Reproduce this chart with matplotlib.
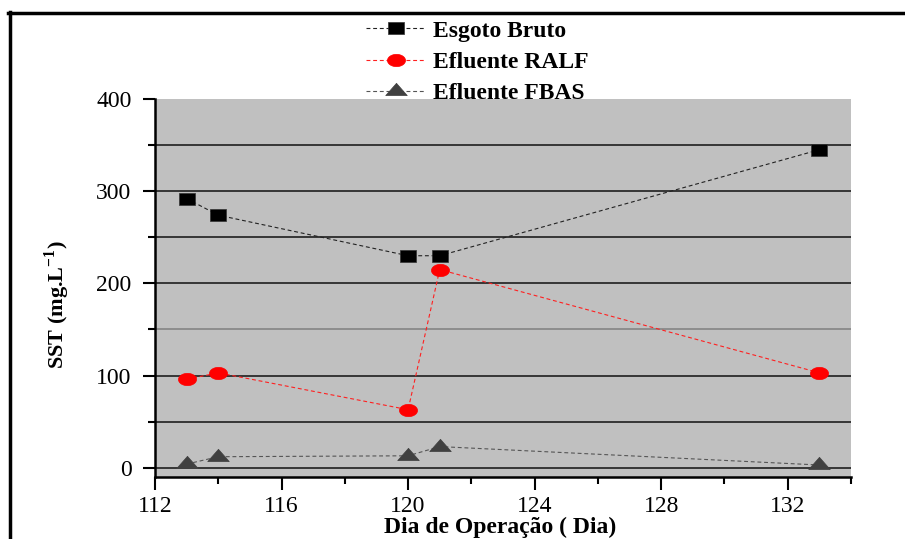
import matplotlib
matplotlib.use("Agg")
import matplotlib.pyplot as plt
import numpy as np
from matplotlib.path import Path
from matplotlib.lines import Line2D

plt.rcParams['font.family'] = ['Liberation Serif', 'DejaVu Serif']
plt.rcParams['mathtext.fontset'] = 'custom'
plt.rcParams['mathtext.rm'] = 'Liberation Serif'
plt.rcParams['mathtext.bf'] = 'Liberation Serif:bold'

# Data
dias = [113, 114, 120, 121, 133]
esgoto_bruto = [292, 274, 230, 230, 345]
efluente_ralf = [96, 103, 63, 215, 103]
efluente_fbas = [4, 12, 13, 23, 3]
series_labels = ['Esgoto Bruto', 'Efluente RALF', 'Efluente FBAS']
xticks = [112, 116, 120, 124, 128, 132]
yticks = [0, 100, 200, 300, 400]

# custom markers (squat shapes as in the reference)
rect = Path([(-1, -0.75), (1, -0.75), (1, 0.75), (-1, 0.75), (-1, -0.75)],
            [Path.MOVETO, Path.LINETO, Path.LINETO, Path.LINETO, Path.CLOSEPOLY])
t = np.linspace(0, 2 * np.pi, 60)
ell = Path(np.column_stack([np.cos(t), 0.68 * np.sin(t)]), closed=True)
tri = Path([(-1, -0.38), (1, -0.38), (0, 0.76), (-1, -0.38)],
           [Path.MOVETO, Path.LINETO, Path.LINETO, Path.CLOSEPOLY])

fig = plt.figure(figsize=(9.05, 5.39), dpi=100)
ax = fig.add_axes([155 / 905, 1 - 477 / 539, 696 / 905, 378 / 539])
ax.set_facecolor('#c0c0c0')

ax.set_xlim(112, 134)
ax.set_ylim(-10, 400)

# gridlines every 50
for yv in range(0, 400, 50):
    ax.axhline(yv, color='#808080' if yv == 150 else '#111111', lw=1.1, zorder=1)

dash = (0, (3.5, 2.5))
ax.plot(dias, esgoto_bruto, color='#222222', lw=0.8, ls=dash, marker=rect,
        ms=11.5, mfc='black', mec='#333333', mew=0.5, label=series_labels[0], zorder=3)
ax.plot(dias, efluente_ralf, color='#ff2020', lw=0.8, ls=dash, marker=ell,
        ms=13, mfc='#ff0000', mec='#ff0000', mew=0.5, label=series_labels[1], zorder=3)
ax.plot(dias, efluente_fbas, color='#555555', lw=0.8, ls=dash, marker=tri,
        ms=15.5, mfc='#404040', mec='#404040', mew=0.5, label=series_labels[2], zorder=3)

ax.set_xticks(xticks)
ax.set_xticks(np.arange(112, 135, 2), minor=True)
ax.set_yticks(yticks)
ax.set_yticks(np.arange(0, 401, 50), minor=True)
ax.tick_params(axis='both', which='major', direction='out', length=9, width=1.5,
               labelsize=17, color='black')
ax.tick_params(axis='both', which='minor', direction='out', length=5, width=1.5)
ax.tick_params(axis='y', pad=8)
ax.tick_params(axis='x', pad=5)

for s in ['top', 'right']:
    ax.spines[s].set_visible(False)
for s in ['left', 'bottom']:
    ax.spines[s].set_linewidth(1.8)

fig.text(500 / 905, 1 - 527 / 539, 'Dia de Operação ( Dia)', ha='center', va='center',
         fontsize=17, fontweight='bold')
fig.text(57 / 905, 1 - 305 / 539, r'SST (mg.L$^{\mathbf{-1}}$)', ha='center', va='center',
         rotation=90, fontsize=16, fontweight='bold')

leg = fig.legend(loc='upper left', bbox_to_anchor=(366 / 905, 1 - 20 / 539),
                 frameon=False, fontsize=17, handlelength=2.5, handletextpad=0.35,
                 labelspacing=0.42, borderpad=0, borderaxespad=0)
for txt in leg.get_texts():
    txt.set_fontweight('bold')

# outer frame lines (top and left)
fig.add_artist(Line2D([8 / 905, 1.0], [1 - 12.5 / 539, 1 - 12.5 / 539], color='black', lw=2.5,
                      transform=fig.transFigure))
fig.add_artist(Line2D([9.5 / 905, 9.5 / 905], [0, 1 - 11.5 / 539], color='black', lw=2.5,
                      transform=fig.transFigure))

fig.savefig('out.png', dpi=100)
